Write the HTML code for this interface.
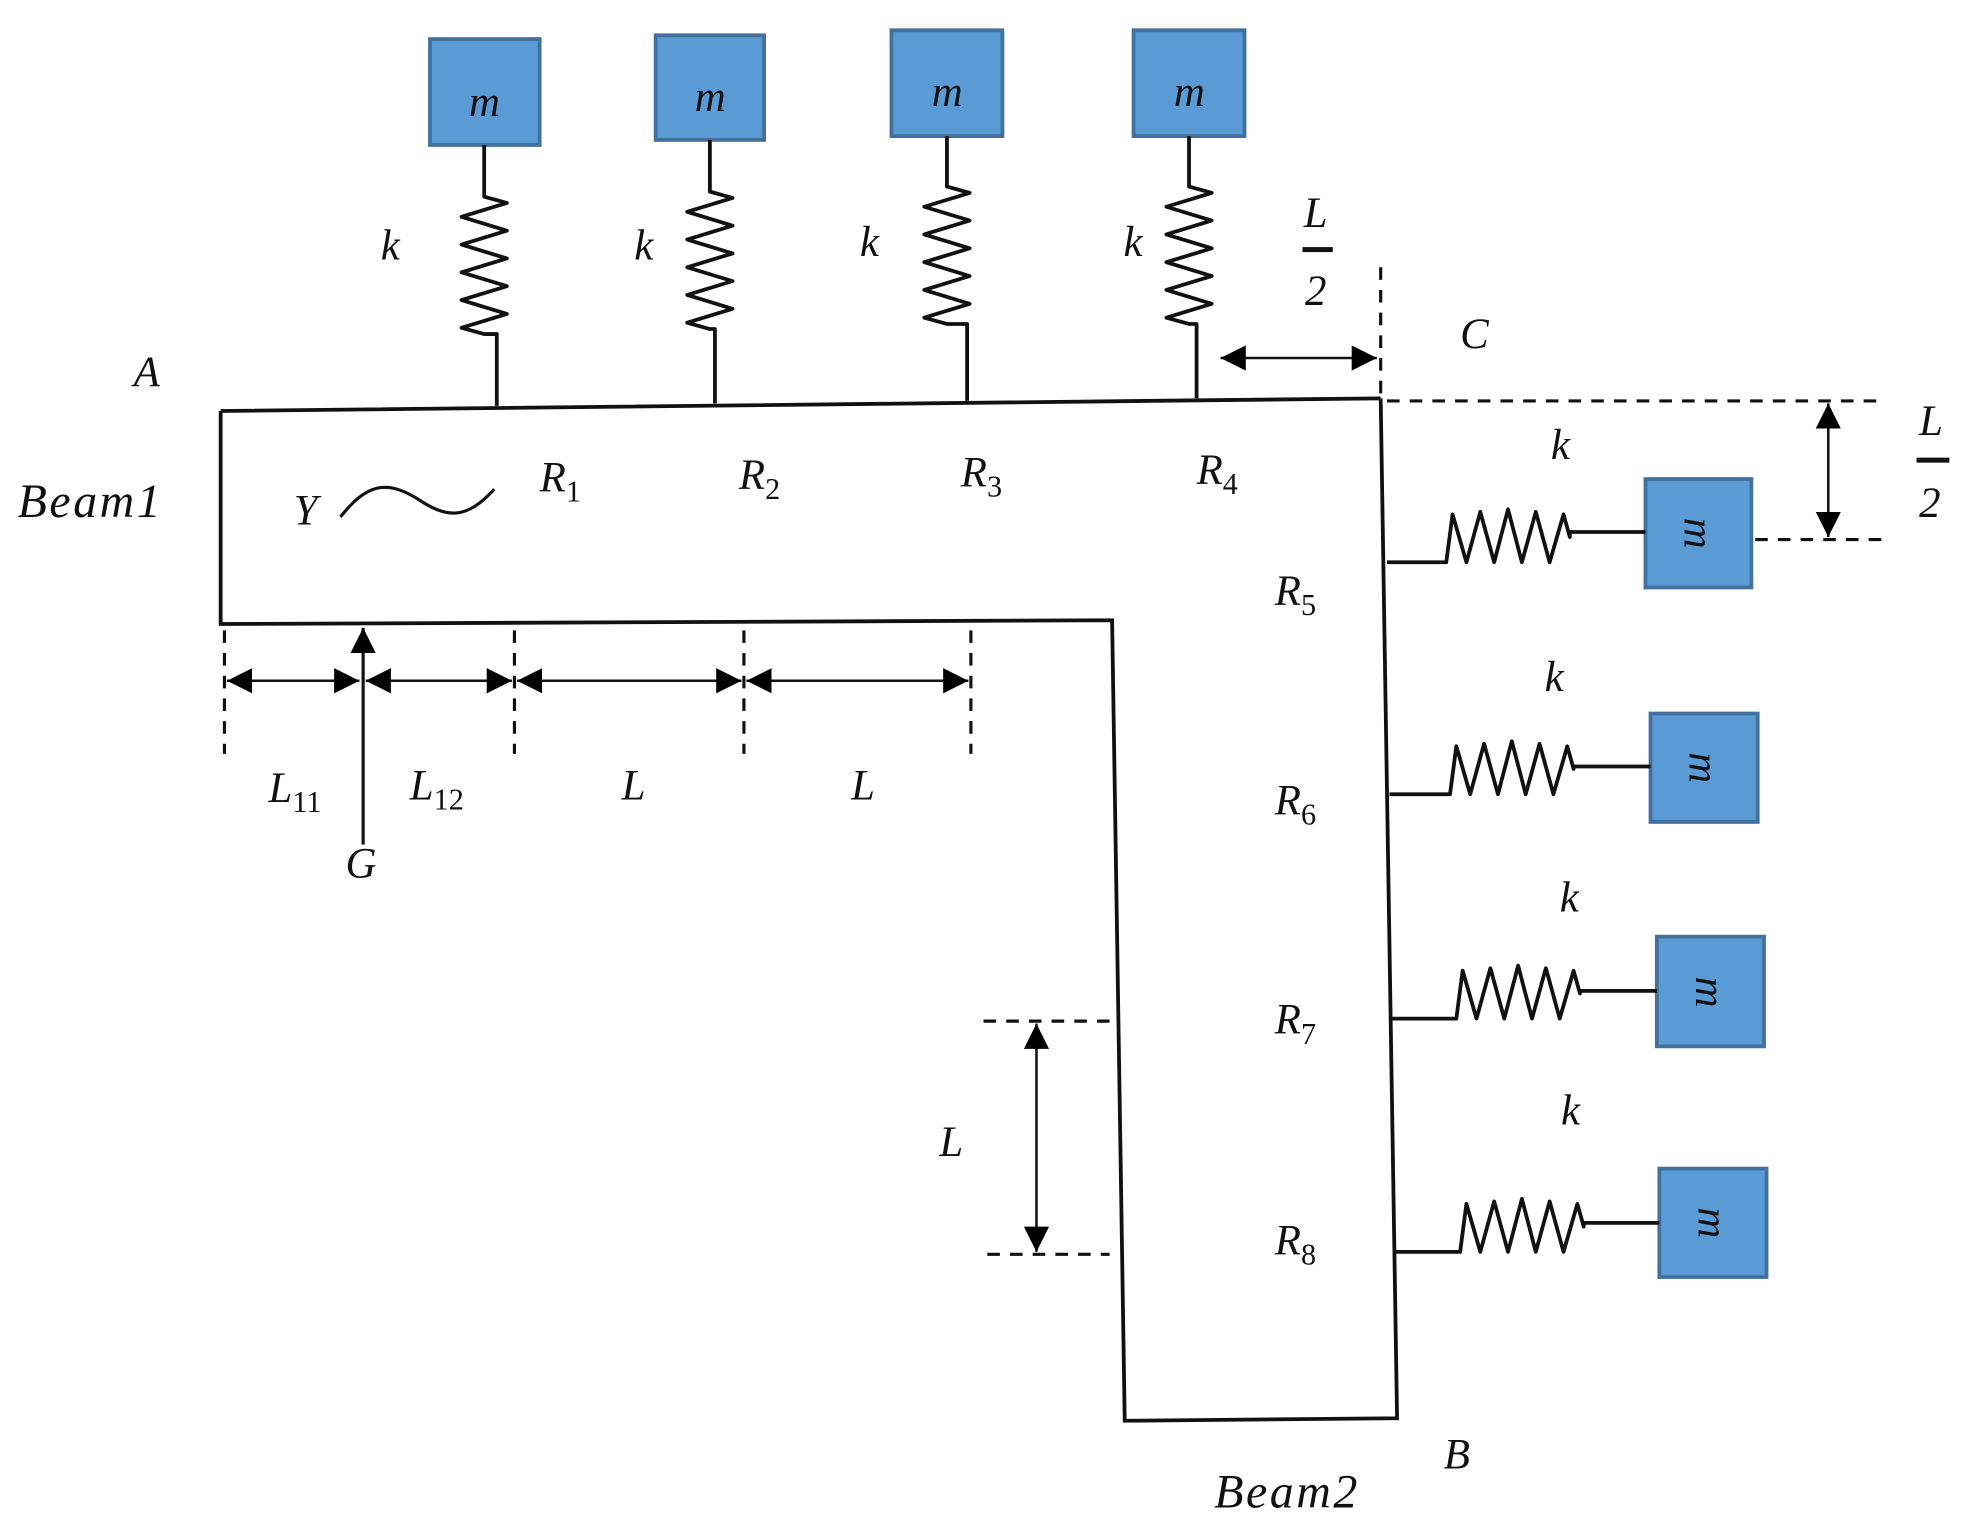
<!DOCTYPE html>
<html><head><meta charset="utf-8"><style>
html,body{margin:0;padding:0;background:#fff;}
svg{display:block;}
text{font-family:"Liberation Serif",serif;font-style:italic;fill:#111;}
</style></head><body>
<svg width="1967" height="1538" viewBox="0 0 1560 1220" preserveAspectRatio="none" xmlns="http://www.w3.org/2000/svg">
<defs>
<marker id="ah" viewBox="0 0 10 10" refX="10" refY="5" markerWidth="20" markerHeight="20" markerUnits="userSpaceOnUse" orient="auto-start-reverse"><path d="M0 0L10 5L0 10z" fill="#000"/></marker>
</defs>
<g fill="none" stroke="#111" stroke-width="3">
<path d="M175 326 L1095 316 M175 326 L175 495 L882 492 L892 1127 L1108 1125 L1095 316"/>
</g>
<g fill="#5b9bd5" stroke="#41719c" stroke-width="3">
<rect x="341" y="31" width="87" height="84"/>
<rect x="520" y="28" width="86" height="83"/>
<rect x="707" y="24" width="88" height="84"/>
<rect x="899" y="24" width="88" height="84"/>
<rect x="1305" y="380" width="84" height="86"/>
<rect x="1309" y="566" width="85" height="86"/>
<rect x="1314" y="743" width="85" height="87"/>
<rect x="1316" y="927" width="85" height="86"/>
</g>
<g fill="none" stroke="#111" stroke-width="3" stroke-linejoin="round">
<path d="M384 115 V156 l18 5 l-36 11 l36 11 l-36 11 l36 11 l-36 11 l36 11 l-36 11 l36 11 l-36 11 l18 5 h10 V322"/>
<path d="M563 111 V152 l18 5 l-36 11 l36 11 l-36 11 l36 11 l-36 11 l36 11 l-36 11 l36 11 l-36 11 l18 5 h4 V320"/>
<path d="M751 108 V148 l18 5 l-36 11 l36 11 l-36 11 l36 11 l-36 11 l36 11 l-36 11 l36 11 l-36 11 l18 5 h16 V318"/>
<path d="M943 108 V148 l18 5 l-36 11 l36 11 l-36 11 l36 11 l-36 11 l36 11 l-36 11 l36 11 l-36 11 l18 5 h6 V316"/>
<path d="M1100 446 H1147 l5 -38 l11 38 l11 -40 l11 40 l11 -42 l11 42 l11 -40 l11 40 l11 -38 l5 18 V422 H1305"/>
<path d="M1102 630 H1150 l5 -38 l11 38 l11 -40 l11 40 l11 -42 l11 42 l11 -40 l11 40 l11 -38 l5 18 V608 H1309"/>
<path d="M1104 808 H1155 l5 -38 l11 38 l11 -40 l11 40 l11 -42 l11 42 l11 -40 l11 40 l11 -38 l5 18 V786 H1314"/>
<path d="M1106 993 H1158 l5 -38 l11 38 l11 -40 l11 40 l11 -42 l11 42 l11 -40 l11 40 l11 -38 l5 18 V970 H1316"/>
<path d="M270 410 C290 385,305 380,330 395 C355 412,370 412,392 388" stroke-width="2.5"/>
</g>
<g stroke="#111" stroke-width="2.5" stroke-dasharray="10 8" fill="none">
<path d="M1095 212 V316"/>
<path d="M1100 318 H1492"/>
<path d="M1392 428 H1496"/>
<path d="M178 500 V598 M408 500 V598 M590 500 V598 M770 500 V598"/>
<path d="M780 810 H880 M783 995 H880"/>
</g>
<g stroke="#111" stroke-width="2" fill="none" marker-start="url(#ah)" marker-end="url(#ah)">
<path d="M968 284 H1092"/>
<path d="M1450 320 V426"/>
<path d="M180 540 H285"/>
<path d="M290 540 H406"/>
<path d="M410 540 H588"/>
<path d="M592 540 H768"/>
<path d="M822 812 V993"/>
</g>
<path d="M288 670 V498" stroke="#111" stroke-width="2.5" marker-end="url(#ah)"/>
<rect x="1033" y="196" width="24" height="4" fill="#111"/>
<rect x="1520" y="363" width="26" height="4" fill="#111"/>
<g font-size="34">
<text x="372" y="92">m</text><text x="551" y="88">m</text><text x="739" y="84">m</text><text x="931" y="84">m</text>
<text x="302" y="206">k</text><text x="503" y="206">k</text><text x="682" y="203">k</text><text x="891" y="203">k</text>
<text x="1230" y="364">k</text><text x="1225" y="548">k</text><text x="1237" y="723">k</text><text x="1238" y="892">k</text>
<text x="1034" y="180">L</text><text x="1035" y="242" font-style="normal">2</text>
<text x="1522" y="345">L</text><text x="1522" y="410" font-style="normal">2</text>
<text x="106" y="306">A</text>
<text x="1158" y="276">C</text>
<text x="1145" y="1165">B</text>
<text x="14" y="410" font-size="38" letter-spacing="2">Beam1</text>
<text x="963" y="1196" font-size="38" letter-spacing="2">Beam2</text>
<text x="233" y="416">Y</text>
<text x="428" y="390">R<tspan font-size="24" font-style="normal" dy="8">1</tspan></text>
<text x="586" y="388">R<tspan font-size="24" font-style="normal" dy="8">2</tspan></text>
<text x="762" y="386">R<tspan font-size="24" font-style="normal" dy="8">3</tspan></text>
<text x="949" y="384">R<tspan font-size="24" font-style="normal" dy="8">4</tspan></text>
<text x="1011" y="480">R<tspan font-size="24" font-style="normal" dy="8">5</tspan></text>
<text x="1011" y="646">R<tspan font-size="24" font-style="normal" dy="8">6</tspan></text>
<text x="1011" y="820">R<tspan font-size="24" font-style="normal" dy="8">7</tspan></text>
<text x="1011" y="995">R<tspan font-size="24" font-style="normal" dy="8">8</tspan></text>
<text x="213" y="636">L<tspan font-size="24" font-style="normal" dy="8">11</tspan></text>
<text x="325" y="634">L<tspan font-size="24" font-style="normal" dy="8">12</tspan></text>
<text x="493" y="634">L</text>
<text x="675" y="634">L</text>
<text x="274" y="696">G</text>
<text x="745" y="917">L</text>
</g>
<g font-size="34">
<text transform="translate(1336,423) rotate(90)" text-anchor="middle">m</text>
<text transform="translate(1340,609) rotate(90)" text-anchor="middle">m</text>
<text transform="translate(1345,787) rotate(90)" text-anchor="middle">m</text>
<text transform="translate(1347,970) rotate(90)" text-anchor="middle">m</text>
</g>
</svg>
</body></html>
